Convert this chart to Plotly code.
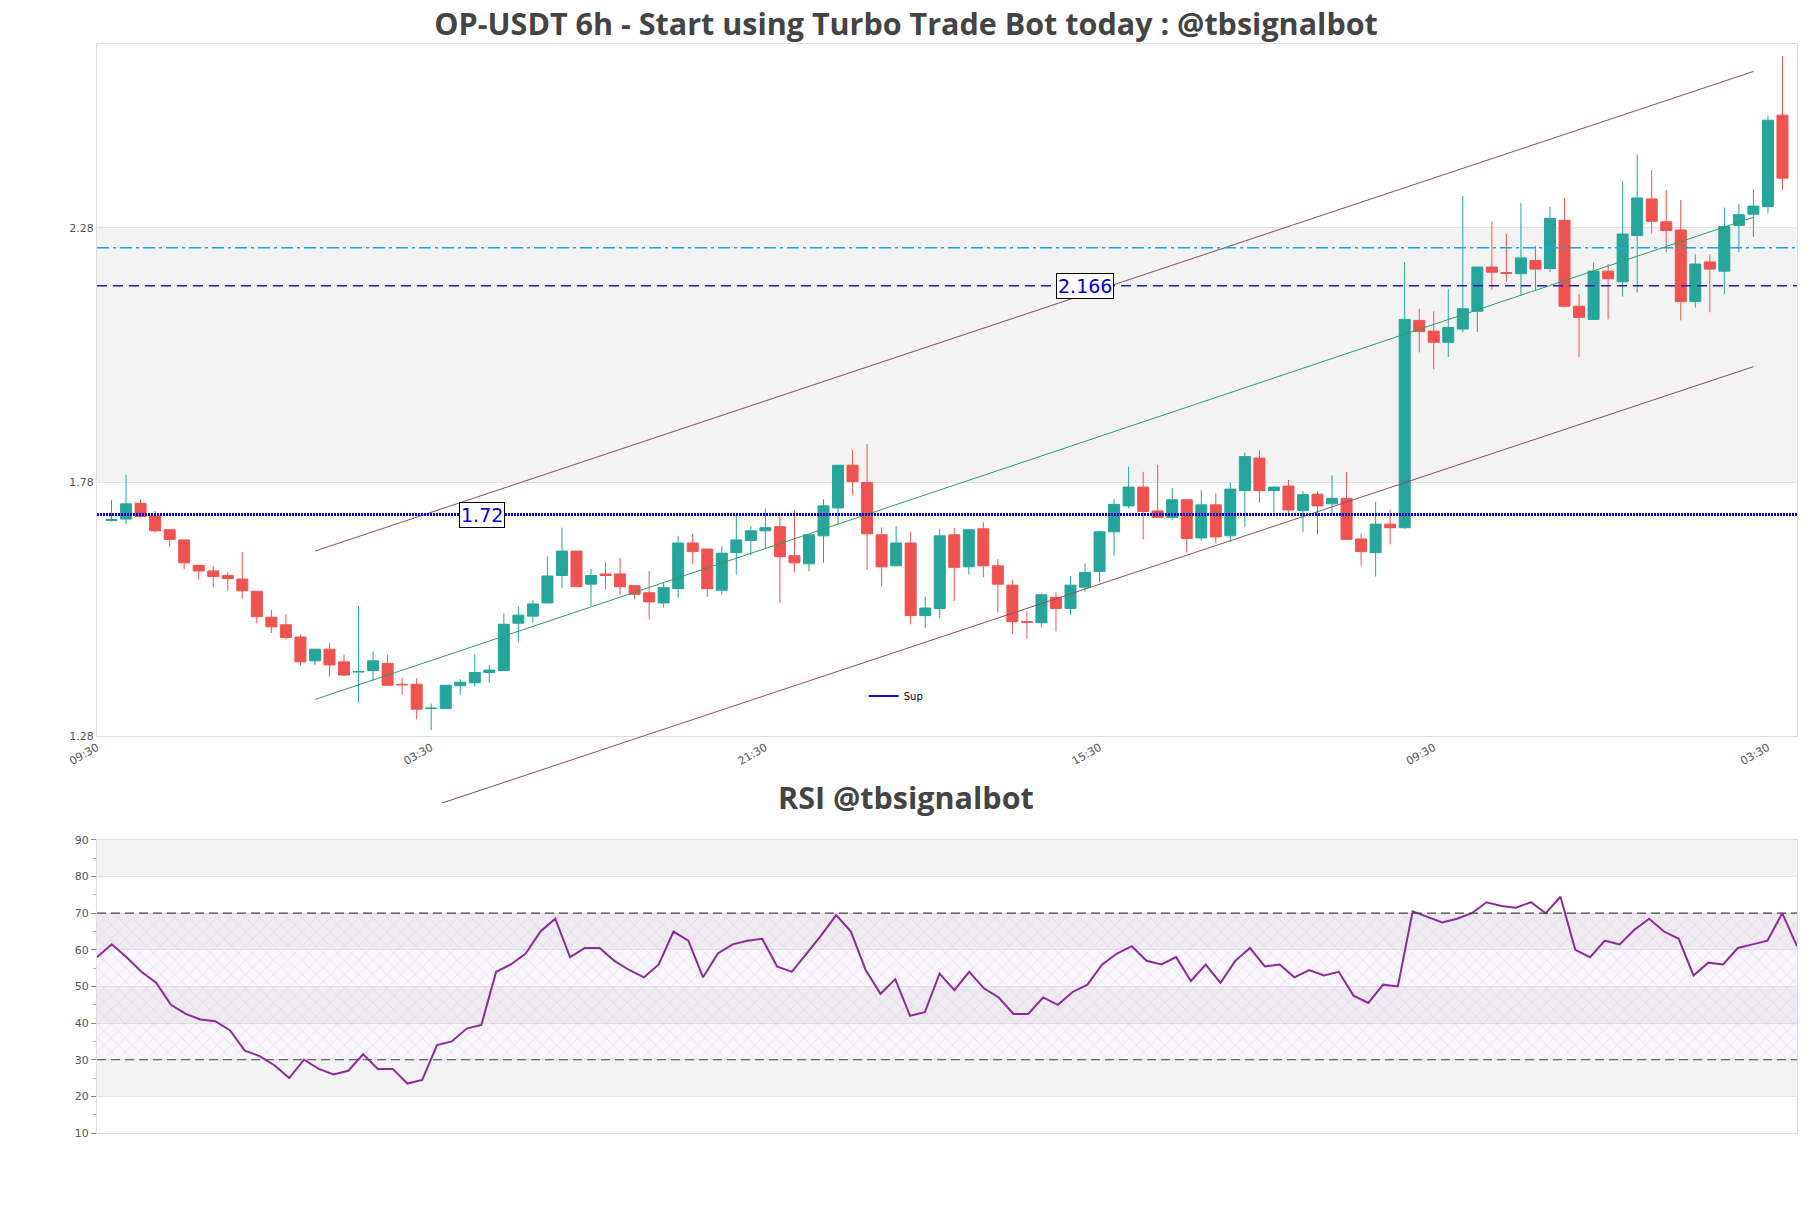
import logging
import plotly.graph_objects as go

logging.basicConfig(level=logging.INFO)
logger = logging.getLogger(__name__)

# 6h candles, bar 0 opens at 15:30
opens = [1.704, 1.707, 1.738, 1.713, 1.686, 1.666, 1.616, 1.605, 1.596, 1.589,
         1.565, 1.514, 1.499, 1.475, 1.428, 1.451, 1.426, 1.406, 1.409, 1.423,
         1.382, 1.382, 1.334, 1.334, 1.379, 1.385, 1.405, 1.409, 1.502, 1.516,
         1.542, 1.596, 1.644, 1.579, 1.599, 1.599, 1.576, 1.562, 1.542, 1.570,
         1.660, 1.648, 1.567, 1.641, 1.665, 1.684, 1.692, 1.635, 1.619, 1.674,
         1.729, 1.813, 1.779, 1.676, 1.615, 1.660, 1.517, 1.531, 1.676, 1.613,
         1.688, 1.615, 1.577, 1.505, 1.503, 1.553, 1.531, 1.573, 1.604, 1.682,
         1.733, 1.770, 1.723, 1.710, 1.745, 1.670, 1.735, 1.674, 1.763, 1.827,
         1.763, 1.772, 1.724, 1.756, 1.737, 1.748, 1.668, 1.641, 1.697, 1.690,
         2.098, 2.077, 2.055, 2.081, 2.116, 2.203, 2.192, 2.190, 2.216, 2.200,
         2.295, 2.126, 2.100, 2.195, 2.174, 2.265, 2.337, 2.292, 2.276, 2.135,
         2.213, 2.195, 2.285, 2.307, 2.322, 2.502]
highs = [1.745, 1.794, 1.746, 1.723, 1.686, 1.666, 1.616, 1.615, 1.602, 1.642,
         1.565, 1.528, 1.520, 1.480, 1.451, 1.463, 1.440, 1.536, 1.447, 1.440,
         1.395, 1.394, 1.344, 1.380, 1.392, 1.441, 1.420, 1.521, 1.535, 1.548,
         1.633, 1.690, 1.644, 1.609, 1.622, 1.631, 1.577, 1.605, 1.581, 1.674,
         1.678, 1.648, 1.654, 1.715, 1.693, 1.727, 1.717, 1.725, 1.676, 1.746,
         1.813, 1.843, 1.855, 1.691, 1.693, 1.682, 1.554, 1.688, 1.689, 1.686,
         1.701, 1.628, 1.588, 1.525, 1.561, 1.563, 1.595, 1.620, 1.684, 1.746,
         1.810, 1.800, 1.814, 1.768, 1.746, 1.764, 1.758, 1.779, 1.838, 1.843,
         1.771, 1.784, 1.762, 1.761, 1.793, 1.800, 1.679, 1.741, 1.726, 2.213,
         2.121, 2.116, 2.160, 2.343, 2.203, 2.293, 2.268, 2.329, 2.244, 2.321,
         2.339, 2.150, 2.212, 2.209, 2.372, 2.425, 2.394, 2.355, 2.335, 2.228,
         2.228, 2.320, 2.327, 2.356, 2.501, 2.618]
lows = [1.702, 1.697, 1.710, 1.681, 1.653, 1.608, 1.588, 1.573, 1.566, 1.550,
        1.502, 1.483, 1.470, 1.419, 1.419, 1.397, 1.398, 1.346, 1.390, 1.380,
        1.361, 1.313, 1.292, 1.334, 1.361, 1.377, 1.385, 1.409, 1.464, 1.503,
        1.542, 1.571, 1.574, 1.536, 1.569, 1.558, 1.549, 1.510, 1.533, 1.552,
        1.618, 1.554, 1.558, 1.598, 1.636, 1.649, 1.542, 1.602, 1.604, 1.621,
        1.697, 1.754, 1.607, 1.574, 1.615, 1.500, 1.493, 1.512, 1.546, 1.598,
        1.592, 1.523, 1.481, 1.472, 1.494, 1.486, 1.518, 1.564, 1.582, 1.635,
        1.728, 1.667, 1.710, 1.705, 1.641, 1.665, 1.659, 1.661, 1.692, 1.739,
        1.713, 1.717, 1.682, 1.676, 1.715, 1.667, 1.615, 1.594, 1.657, 1.688,
        2.035, 2.002, 2.026, 2.075, 2.075, 2.158, 2.174, 2.146, 2.157, 2.193,
        2.124, 2.026, 2.100, 2.100, 2.145, 2.153, 2.269, 2.232, 2.098, 2.123,
        2.114, 2.150, 2.232, 2.262, 2.309, 2.355]
closes = [1.706, 1.737, 1.712, 1.684, 1.667, 1.621, 1.605, 1.594, 1.590, 1.566,
          1.515, 1.495, 1.474, 1.426, 1.451, 1.420, 1.400, 1.407, 1.428, 1.380,
          1.381, 1.333, 1.335, 1.380, 1.386, 1.405, 1.410, 1.500, 1.518, 1.540,
          1.595, 1.644, 1.574, 1.596, 1.596, 1.574, 1.559, 1.544, 1.572, 1.660,
          1.643, 1.570, 1.640, 1.666, 1.684, 1.690, 1.633, 1.621, 1.676, 1.733,
          1.813, 1.781, 1.678, 1.613, 1.660, 1.517, 1.532, 1.674, 1.612, 1.686,
          1.615, 1.579, 1.505, 1.504, 1.558, 1.531, 1.577, 1.602, 1.682, 1.736,
          1.770, 1.722, 1.710, 1.745, 1.669, 1.735, 1.672, 1.766, 1.830, 1.763,
          1.770, 1.725, 1.755, 1.733, 1.748, 1.667, 1.643, 1.697, 1.690, 2.100,
          2.076, 2.055, 2.084, 2.121, 2.203, 2.193, 2.191, 2.221, 2.199, 2.299,
          2.126, 2.104, 2.195, 2.180, 2.268, 2.339, 2.293, 2.275, 2.135, 2.209,
          2.199, 2.283, 2.306, 2.323, 2.492, 2.378]

rsi = [58, 61.5, 58, 54, 51, 45, 42.5, 41, 40.5, 38,
       32.5, 31, 28.5, 25, 30, 27.5, 26, 27, 31.5, 27.5,
       27.5, 23.5, 24.5, 34, 35, 38.5, 39.5, 54, 56, 59,
       65, 68.5, 58, 60.5, 60.5, 57, 54.5, 52.5, 56, 65,
       62.5, 52.5, 59, 61.5, 62.5, 63, 55.5, 54, 59, 64,
       69.5, 65, 54.5, 48, 52, 42, 43, 53.5, 49, 54,
       49.5, 47, 42.5, 42.5, 47, 45, 48.5, 50.5, 56, 59,
       61, 57, 56, 58, 51.5, 56, 51, 57, 60.5, 55.5,
       56, 52.5, 54.5, 53, 54, 47.5, 45.5, 50.5, 50, 70.5,
       69, 67.5, 68.5, 70, 73, 72, 71.5, 73, 70, 74.5,
       60, 58, 62.5, 61.5, 65.5, 68.5, 65, 63, 53, 56.5,
       56, 60.5, 61.5, 62.5, 70, 61]

tick_idx = [-1, 22, 45, 68, 91, 114]
tick_labels = ["09:30", "03:30", "21:30", "15:30", "09:30", "03:30"]

sup_level = 1.716
res_level = 2.166
res2_level = 2.241

chan_x = [14, 113]
chan_upper = [1.644, 2.588]
chan_mid = [1.352, 2.301]
chan_lower = [1.065, 2.007]

price_range = [1.28, 2.642]
price_step = 0.5
rsi_range = [10, 90]
rsi_step = 10
rsi_levels = [30, 70]

TITLE = "OP-USDT 6h - Start using Turbo Trade Bot today : @tbsignalbot"
RSI_TITLE = "RSI @tbsignalbot"

GREEN = "#26a69a"
RED = "#ef5350"
BAND = "#f3f3f3"
TICK_FONT = dict(family="DejaVu Sans", size=11, color="#555555")
TITLE_FONT = dict(family="Open Sans", size=30.5, color="#444444")

main_dom = [0.3645, 1.0]
rsi_dom = [0.0, 0.2691]
clip_bottom = 0.303  # channel lines may run a bit below the price pane


def band_shapes(lo, hi, step, xref, yref):
    """Alternating grey bands between tick values."""
    shapes = []
    v, i = lo, 0
    while v < hi - 1e-9:
        if i % 2 == 1:
            shapes.append(dict(type="rect", xref=xref, yref=yref, x0=0, x1=1,
                               y0=v, y1=min(v + step, hi), fillcolor=BAND,
                               line=dict(width=0), layer="below"))
        v += step
        i += 1
    return shapes


def hline(level, color, dash, width):
    return dict(type="line", xref="x domain", yref="y", x0=0, x1=1,
                y0=level, y1=level, line=dict(color=color, dash=dash, width=width))


n = len(closes)
x = list(range(n))
x_range = [-1, n]

# extended y axis (same scale as the price axis) for the channel lines
span = price_range[1] - price_range[0]
clip_lo = price_range[0] - (main_dom[0] - clip_bottom) / (main_dom[1] - main_dom[0]) * span

fig = go.Figure()

fig.add_trace(go.Candlestick(
    x=x, open=opens, high=highs, low=lows, close=closes,
    increasing=dict(line=dict(color=GREEN, width=1), fillcolor=GREEN),
    decreasing=dict(line=dict(color=RED, width=1), fillcolor=RED),
    whiskerwidth=0, showlegend=False, xaxis="x", yaxis="y",
))

for vals, color in [(chan_upper, "#8c4a68"), (chan_mid, "#2e9e63"), (chan_lower, "#8c4a68")]:
    fig.add_trace(go.Scatter(
        x=chan_x, y=vals, mode="lines", line=dict(color=color, width=1),
        showlegend=False, hoverinfo="skip", xaxis="x", yaxis="y3",
    ))

fig.add_trace(go.Scatter(
    x=[None], y=[None], mode="lines", name="Sup",
    line=dict(color="#1414b4", width=2), xaxis="x", yaxis="y",
))

# RSI pane
fig.add_trace(go.Scatter(
    x=[0, n - 1], y=[rsi_levels[0]] * 2, mode="lines", line=dict(width=0),
    showlegend=False, hoverinfo="skip", xaxis="x2", yaxis="y2",
))
fig.add_trace(go.Scatter(
    x=[0, n - 1], y=[rsi_levels[1]] * 2, mode="lines", line=dict(width=0),
    fill="tonexty", fillcolor="rgba(205,185,230,0.12)",
    fillpattern=dict(shape="x", fgcolor="rgba(185,140,215,0.6)", size=10, solidity=0.12),
    showlegend=False, hoverinfo="skip", xaxis="x2", yaxis="y2",
))
fig.add_trace(go.Scatter(
    x=x, y=rsi, mode="lines", line=dict(color="#8e2a9e", width=2),
    showlegend=False, xaxis="x2", yaxis="y2",
))

shapes = band_shapes(price_range[0], price_range[1], price_step, "x domain", "y")
shapes += band_shapes(rsi_range[0], rsi_range[1], rsi_step, "x2 domain", "y2")
shapes += [
    hline(res2_level, "#1aa8e2", "12px,4px,3px,4px", 1.3),
    hline(res_level, "#1e1ec4", "10px,6px", 1.5),
    hline(sup_level, "#0000cc", "2px,1px", 3),
]
for lvl in rsi_levels:
    shapes.append(dict(type="line", xref="x2 domain", yref="y2", x0=0, x1=1,
                       y0=lvl, y1=lvl, line=dict(color="#444444", dash="9px,5px", width=1.2)))

label_box = dict(font=dict(family="DejaVu Sans", size=19, color="#0000e0"),
                 bgcolor="white", bordercolor="black", borderwidth=1, borderpad=1,
                 showarrow=False, xref="x", yref="y")
annotations = [
    dict(x=25.5, y=sup_level, text=f"{sup_level:.2f}", **label_box),
    dict(x=67, y=res_level, text=f"{res_level:.3f}", **label_box),
    dict(x=0.4756, y=0.2874, xref="paper", yref="paper", text=f"<b>{RSI_TITLE}</b>",
         showarrow=False, font=TITLE_FONT),
]

axis_line = dict(showline=True, mirror=True, linecolor="#dddddd", linewidth=1)

fig.update_layout(
    width=1811, height=1208,
    margin=dict(l=89, r=22, t=36, b=83),
    paper_bgcolor="white", plot_bgcolor="rgba(0,0,0,0)",
    boxgap=0.13, boxgroupgap=0.13,
    title=dict(text=f"<b>{TITLE}</b>", x=0.4959, xanchor="center", y=1 - 16 / 1208,
               yanchor="middle", font=TITLE_FONT),
    xaxis=dict(domain=[0, 1], anchor="y", range=x_range, tickmode="array",
               tickvals=tick_idx, ticktext=tick_labels, tickangle=-30,
               tickfont=TICK_FONT, showgrid=False, zeroline=False,
               rangeslider=dict(visible=False), **axis_line),
    yaxis=dict(domain=main_dom, anchor="x", range=price_range, tickmode="linear",
               tick0=price_range[0], dtick=price_step, tickformat=".2f",
               tickfont=TICK_FONT, showgrid=True, gridcolor="#e2e2e2",
               zeroline=False, **axis_line),
    yaxis3=dict(domain=[clip_bottom, main_dom[1]], anchor="x",
                range=[clip_lo, price_range[1]], visible=False),
    xaxis2=dict(domain=[0, 1], anchor="y2", range=[0, n - 1], showticklabels=False,
                showgrid=False, zeroline=False, **axis_line),
    yaxis2=dict(domain=rsi_dom, anchor="x2", range=rsi_range, tickmode="linear",
                tick0=rsi_range[0], dtick=rsi_step, ticks="outside", ticklen=5,
                tickcolor="#888888", tickfont=TICK_FONT, showgrid=True,
                gridcolor="#e2e2e2", zeroline=False,
                minor=dict(dtick=rsi_step / 2, ticks="outside", ticklen=3,
                           tickcolor="#aaaaaa", showgrid=False),
                **axis_line),
    shapes=shapes,
    annotations=annotations,
    legend=dict(x=0.451, y=0.4013, xanchor="left", yanchor="middle",
                bgcolor="rgba(0,0,0,0)", font=dict(family="DejaVu Sans", size=10, color="black")),
    showlegend=True,
)

logger.info("candles: %d, rsi points: %d", n, len(rsi))
fig.write_html("out.html")
